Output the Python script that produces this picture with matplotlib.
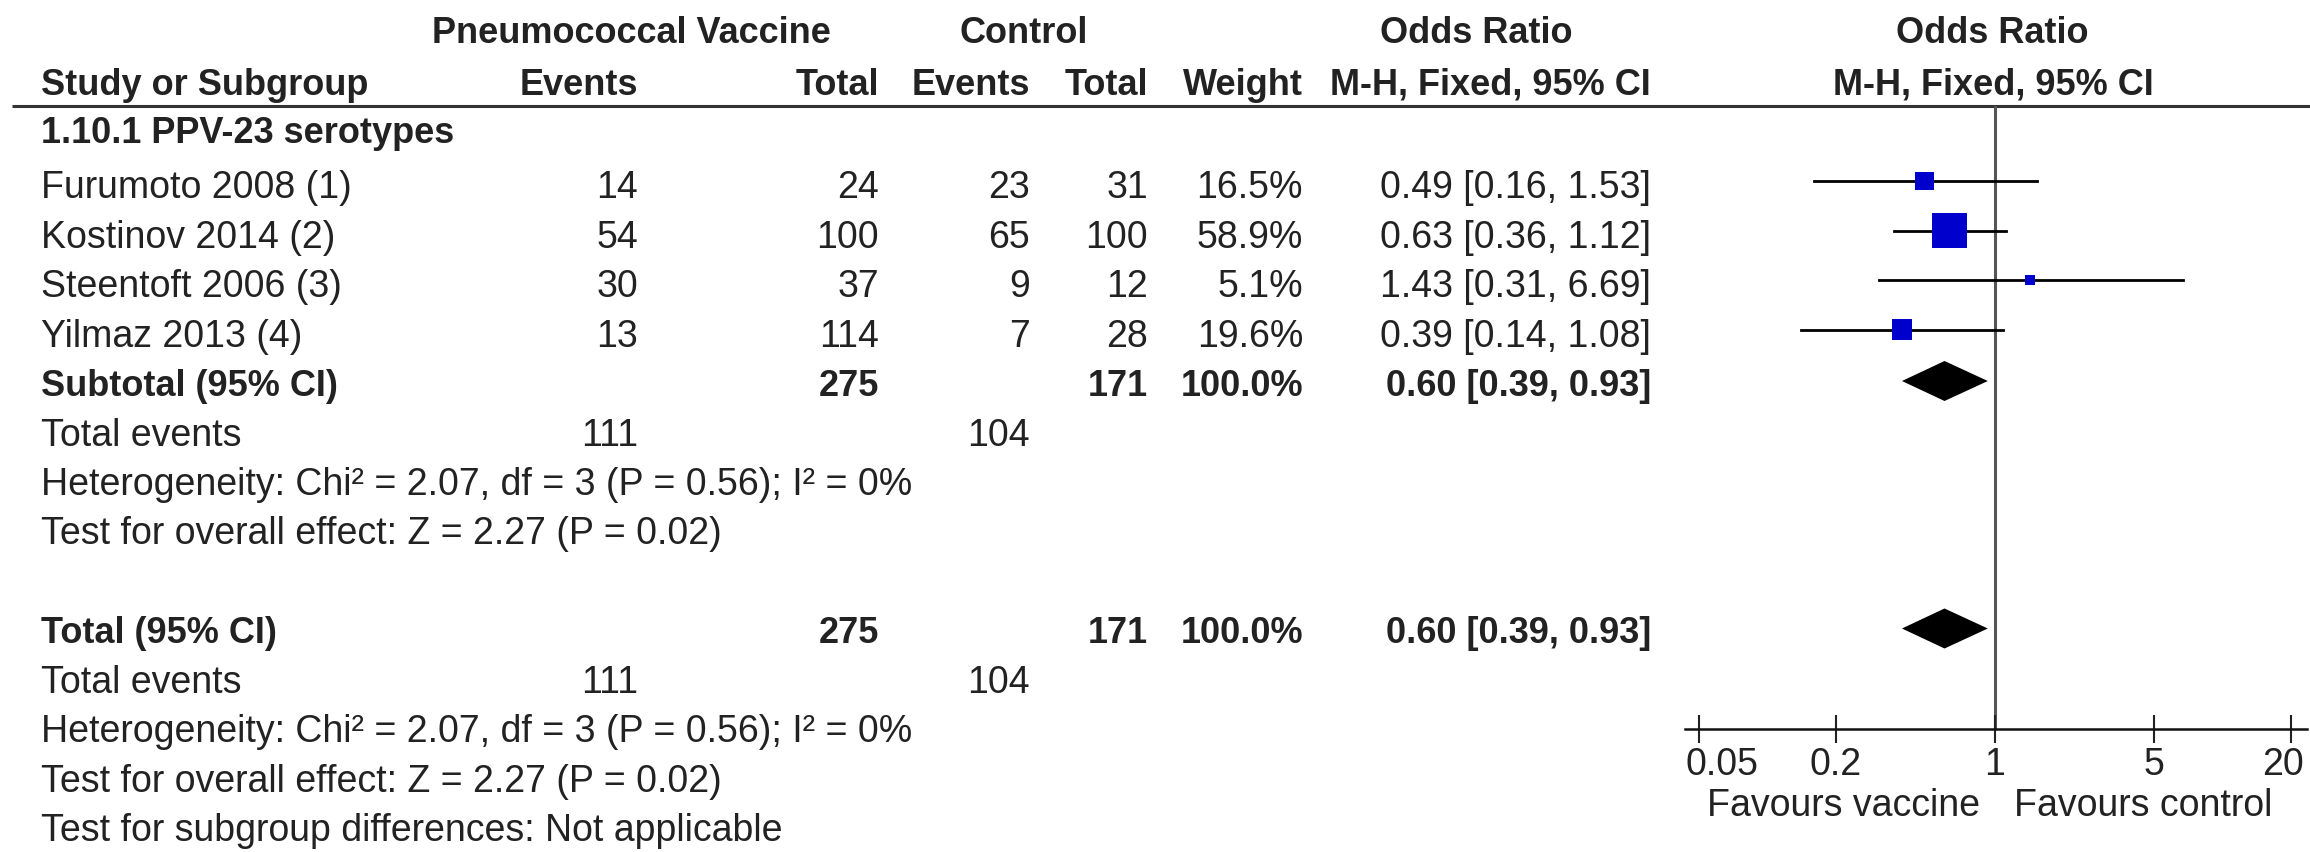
import matplotlib
matplotlib.use("Agg")
import matplotlib.pyplot as plt
import matplotlib.transforms as mtransforms
import numpy as np

plt.rcParams["font.family"] = ["Liberation Sans", "DejaVu Sans"]

# study data
studies = ["Furumoto 2008 (1)", "Kostinov 2014 (2)", "Steentoft 2006 (3)", "Yilmaz 2013 (4)"]
vac_events = [14, 54, 30, 13]
vac_total = [24, 100, 37, 114]
ctl_events = [23, 65, 9, 7]
ctl_total = [31, 100, 12, 28]
weights = [16.5, 58.9, 5.1, 19.6]
or_est = [0.49, 0.63, 1.43, 0.39]
or_lo = [0.16, 0.36, 0.31, 0.14]
or_hi = [1.53, 1.12, 6.69, 1.08]

# pooled results
pooled_est, pooled_lo, pooled_hi = 0.60, 0.39, 0.93
total_weight = 100.0
sum_vac_total, sum_ctl_total = 275, 171
sum_vac_events, sum_ctl_events = 111, 104
subgroup_name = "1.10.1 PPV-23 serotypes"
het_text = "Heterogeneity: Chi\u00b2 = 2.07, df = 3 (P = 0.56); I\u00b2 = 0%"
effect_text = "Test for overall effect: Z = 2.27 (P = 0.02)"
subdiff_text = "Test for subgroup differences: Not applicable"

tick_vals = [0.05, 0.2, 1, 5, 20]
tick_labels = ["0.05", "0.2", "1", "5", "20"]

W, H = 2310, 853
FS = 27      # regular text
FSB = 26     # bold text
fig = plt.figure(figsize=(W / 100, H / 100), dpi=100)

# table axes in pixel coords
tab = fig.add_axes([0, 0, 1, 1])
tab.set_xlim(0, W)
tab.set_ylim(H, 0)
tab.axis("off")

# column anchors (px)
x_name = 41
x_ve, x_vt, x_ce, x_ct, x_w, x_or = 638, 879, 1030, 1148, 1303, 1651
row0, step = 188, 49.5
rows = [row0 + i * step for i in range(14)]


def txt(x, y, s, ha="left", bold=False):
    tab.text(x, y, s, ha=ha, va="center", fontsize=FSB if bold else FS,
             fontweight="bold" if bold else "normal", color="#222222")


# headers
txt(631, 33, "Pneumococcal Vaccine", ha="center", bold=True)
txt(1024, 33, "Control", ha="center", bold=True)
txt(1476, 33, "Odds Ratio", ha="center", bold=True)
txt(1992, 33, "Odds Ratio", ha="center", bold=True)
txt(x_name, 85, "Study or Subgroup", bold=True)
txt(x_ve, 85, "Events", ha="right", bold=True)
txt(x_vt, 85, "Total", ha="right", bold=True)
txt(x_ce, 85, "Events", ha="right", bold=True)
txt(x_ct, 85, "Total", ha="right", bold=True)
txt(x_w, 85, "Weight", ha="right", bold=True)
txt(x_or, 85, "M-H, Fixed, 95% CI", ha="right", bold=True)
txt(1993, 85, "M-H, Fixed, 95% CI", ha="center", bold=True)
tab.plot([12, W], [107, 107], color="#333333", lw=2.2, solid_capstyle="butt")
txt(x_name, 133, subgroup_name, bold=True)

# study rows
for i, name in enumerate(studies):
    y = rows[i]
    txt(x_name, y, name)
    txt(x_ve, y, str(vac_events[i]), ha="right")
    txt(x_vt, y, str(vac_total[i]), ha="right")
    txt(x_ce, y, str(ctl_events[i]), ha="right")
    txt(x_ct, y, str(ctl_total[i]), ha="right")
    txt(x_w, y, f"{weights[i]:.1f}%", ha="right")
    txt(x_or, y, f"{or_est[i]:.2f} [{or_lo[i]:.2f}, {or_hi[i]:.2f}]", ha="right")

pooled_str = f"{pooled_est:.2f} [{pooled_lo:.2f}, {pooled_hi:.2f}]"
for label, r in [("Subtotal (95% CI)", 4), ("Total (95% CI)", 9)]:
    y = rows[r]
    txt(x_name, y, label, bold=True)
    txt(x_vt, y, str(sum_vac_total), ha="right", bold=True)
    txt(x_ct, y, str(sum_ctl_total), ha="right", bold=True)
    txt(x_w, y, f"{total_weight:.1f}%", ha="right", bold=True)
    txt(x_or, y, pooled_str, ha="right", bold=True)
    txt(x_name, rows[r + 1], "Total events")
    txt(x_ve, rows[r + 1], str(sum_vac_events), ha="right")
    txt(x_ce, rows[r + 1], str(sum_ctl_events), ha="right")
    txt(x_name, rows[r + 2], het_text)
    txt(x_name, rows[r + 3], effect_text)
txt(x_name, rows[13], subdiff_text)

# forest plot axes
left_px, right_px, top_px, axis_px = 1685, 2307, 107, 730
one_px, decade_px = 1995, 227.5
fa = fig.add_axes([left_px / W, (H - axis_px) / H, (right_px - left_px) / W, (axis_px - top_px) / H])
fa.set_xscale("log")
fa.set_xlim(10 ** ((left_px - one_px) / decade_px), 10 ** ((right_px - one_px) / decade_px))
fa.set_ylim(axis_px, top_px)
fa.patch.set_alpha(0)
for s in ["top", "left", "right"]:
    fa.spines[s].set_visible(False)
fa.spines["bottom"].set_linewidth(1.8)
fa.spines["bottom"].set_color("#111111")
fa.set_yticks([])
fa.set_xticks(tick_vals)
fa.set_xticklabels(tick_labels)
fa.xaxis.set_minor_locator(matplotlib.ticker.NullLocator())
fa.tick_params(axis="x", direction="inout", length=20, width=1.5, pad=2,
               labelsize=FS, colors="#222222")
# end labels nudged inward like the original
lbls = fa.get_xticklabels()
lbls[0].set_transform(lbls[0].get_transform() + mtransforms.ScaledTranslation(0.23, 0, fig.dpi_scale_trans))
lbls[-1].set_transform(lbls[-1].get_transform() + mtransforms.ScaledTranslation(-0.08, 0, fig.dpi_scale_trans))

fa.axvline(1, color="#555555", lw=2.2, zorder=1)

mark_off = -6
for i in range(len(studies)):
    y = rows[i] + mark_off
    fa.plot([or_lo[i], or_hi[i]], [y, y], color="black", lw=2.0, zorder=2)
    side_px = 35 * np.sqrt(weights[i] / max(weights))
    fa.scatter([or_est[i]], [y], marker="s", s=(side_px * 0.72) ** 2,
               color="#0000cc", edgecolors="none", zorder=3)

dh = 20
for r in [4, 9]:
    y = rows[r] + mark_off + 2
    fa.fill([pooled_lo, pooled_est, pooled_hi, pooled_est],
            [y, y - dh, y, y + dh], color="black", lw=0, zorder=3)

txt(1980, 806, "Favours vaccine", ha="right")
txt(2014, 806, "Favours control", ha="left")

fig.savefig("out.png", dpi=100, facecolor="white")
